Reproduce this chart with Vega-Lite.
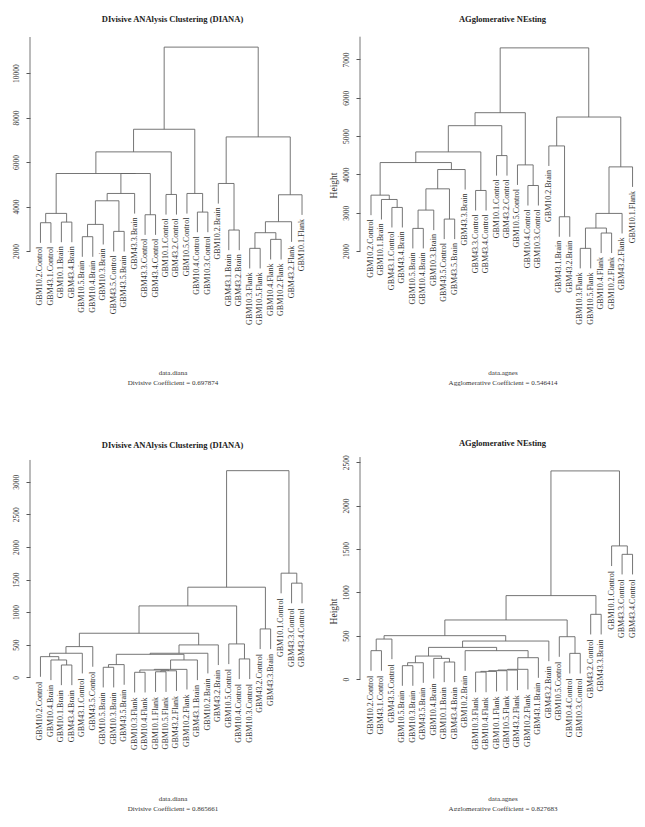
{
"$schema": "https://vega.github.io/schema/vega-lite/v6.json",
"background": "white",
"padding": {"left": 12, "top": 14, "right": 0, "bottom": 0},
"config": {"view": {"stroke": null}, "font": "Liberation Serif", "axis": {"grid": false, "labelFont": "Liberation Serif", "titleFont": "Liberation Serif"}},
"columns": 2,
"bounds": "flush",
"spacing": {"row": 116, "column": 45},
"datasets": {
"p1a": [{"x": 0, "y": 2000, "y2": 11618}],
"p2a": [{"x": -0.05, "y": 2000, "y2": 7595}],
"p3a": [{"x": 0, "y": 0, "y2": 3333}],
"p4a": [{"x": -0.05, "y": 0, "y2": 2560}],
"p1m": [
{"x1":1,"x2":2,"h":3271,"h1":2367,"h2":2367},
{"x1":3,"x2":4,"h":3300,"h1":2396,"h2":2396},
{"x1":1.5,"x2":3.5,"h":3690,"h1":3271,"h2":3300},
{"x1":5,"x2":6,"h":2643,"h1":1739,"h2":1739},
{"x1":5.5,"x2":7,"h":3196,"h1":2643,"h2":2292},
{"x1":8,"x2":9,"h":2882,"h1":1978,"h2":1978},
{"x1":6.25,"x2":8.5,"h":4257,"h1":3196,"h2":2882},
{"x1":7.375,"x2":10,"h":4586,"h1":4257,"h2":3682},
{"x1":11,"x2":12,"h":3630,"h1":2726,"h2":2726},
{"x1":8.6875,"x2":11.5,"h":5483,"h1":4586,"h2":3630},
{"x1":2.5,"x2":10.094,"h":5483,"h1":3690,"h2":5483},
{"x1":13,"x2":14,"h":4541,"h1":3637,"h2":3637},
{"x1":6.297,"x2":13.5,"h":6455,"h1":5483,"h2":4541},
{"x1":16,"x2":17,"h":3749,"h1":2845,"h2":2845},
{"x1":15,"x2":16.5,"h":4586,"h1":3682,"h2":3749},
{"x1":9.898,"x2":15.75,"h":7472,"h1":6455,"h2":4586},
{"x1":19,"x2":20,"h":2942,"h1":2038,"h2":2038},
{"x1":18,"x2":19.5,"h":5035,"h1":4131,"h2":2942},
{"x1":21,"x2":22,"h":2120,"h1":1216,"h2":1216},
{"x1":23,"x2":24,"h":2523,"h1":1619,"h2":1619},
{"x1":21.5,"x2":23.5,"h":2822,"h1":2120,"h2":2523},
{"x1":22.5,"x2":25,"h":3316,"h1":2822,"h2":2412},
{"x1":23.75,"x2":26,"h":4527,"h1":3316,"h2":3623},
{"x1":18.75,"x2":24.875,"h":7128,"h1":5035,"h2":4527},
{"x1":12.824,"x2":21.8125,"h":11164,"h1":7472,"h2":7128}
],
"p1l": [
{"leaf":1,"label":"GBM10.2.Control","y":2367},
{"leaf":2,"label":"GBM43.1.Control","y":2367},
{"leaf":3,"label":"GBM10.1.Brain","y":2396},
{"leaf":4,"label":"GBM43.4.Brain","y":2396},
{"leaf":5,"label":"GBM10.5.Brain","y":1739},
{"leaf":6,"label":"GBM10.4.Brain","y":1739},
{"leaf":7,"label":"GBM10.3.Brain","y":2292},
{"leaf":8,"label":"GBM43.5.Control","y":1978},
{"leaf":9,"label":"GBM43.5.Brain","y":1978},
{"leaf":10,"label":"GBM43.3.Brain","y":3682},
{"leaf":11,"label":"GBM43.3.Control","y":2726},
{"leaf":12,"label":"GBM43.4.Control","y":2726},
{"leaf":13,"label":"GBM10.1.Control","y":3637},
{"leaf":14,"label":"GBM43.2.Control","y":3637},
{"leaf":15,"label":"GBM10.5.Control","y":3682},
{"leaf":16,"label":"GBM10.4.Control","y":2845},
{"leaf":17,"label":"GBM10.3.Control","y":2845},
{"leaf":18,"label":"GBM10.2.Brain","y":4131},
{"leaf":19,"label":"GBM43.1.Brain","y":2038},
{"leaf":20,"label":"GBM43.2.Brain","y":2038},
{"leaf":21,"label":"GBM10.3.Flank","y":1216},
{"leaf":22,"label":"GBM10.5.Flank","y":1216},
{"leaf":23,"label":"GBM10.4.Flank","y":1619},
{"leaf":24,"label":"GBM10.2.Flank","y":1619},
{"leaf":25,"label":"GBM43.2.Flank","y":2412},
{"leaf":26,"label":"GBM10.1.Flank","y":3623}
],
"p2m": [
{"x1":3,"x2":4,"h":3137,"h1":2614,"h2":2614},
{"x1":2,"x2":3.5,"h":3345,"h1":2822,"h2":3137},
{"x1":1,"x2":2.75,"h":3458,"h1":2935,"h2":3345},
{"x1":5,"x2":6,"h":2590,"h1":2067,"h2":2067},
{"x1":5.5,"x2":7,"h":3068,"h1":2590,"h2":2545},
{"x1":8,"x2":9,"h":2833,"h1":2310,"h2":2310},
{"x1":6.25,"x2":8.5,"h":3623,"h1":3068,"h2":2833},
{"x1":7.375,"x2":10,"h":4127,"h1":3623,"h2":3604},
{"x1":1.875,"x2":8.6875,"h":4309,"h1":3458,"h2":4127},
{"x1":11,"x2":12,"h":3580,"h1":3057,"h2":3057},
{"x1":5.281,"x2":11.5,"h":4587,"h1":4309,"h2":3580},
{"x1":13,"x2":14,"h":4491,"h1":3968,"h2":3968},
{"x1":8.391,"x2":13.5,"h":5272,"h1":4587,"h2":4491},
{"x1":16,"x2":17,"h":3710,"h1":3187,"h2":3187},
{"x1":15,"x2":16.5,"h":4248,"h1":3725,"h2":3710},
{"x1":10.945,"x2":15.75,"h":5611,"h1":5272,"h2":4248},
{"x1":19,"x2":20,"h":2894,"h1":2371,"h2":2371},
{"x1":18,"x2":19.5,"h":4743,"h1":4220,"h2":2894},
{"x1":21,"x2":22,"h":2069,"h1":1546,"h2":1546},
{"x1":23,"x2":24,"h":2469,"h1":1946,"h2":1946},
{"x1":21.5,"x2":23.5,"h":2599,"h1":2069,"h2":2469},
{"x1":22.5,"x2":25,"h":2981,"h1":2599,"h2":2458},
{"x1":23.75,"x2":26,"h":4196,"h1":2981,"h2":3673},
{"x1":18.75,"x2":24.875,"h":5498,"h1":4743,"h2":4196},
{"x1":13.348,"x2":21.8125,"h":7303,"h1":5611,"h2":5498}
],
"p2l": [
{"leaf":1,"label":"GBM10.2.Control","y":2935},
{"leaf":2,"label":"GBM10.1.Brain","y":2822},
{"leaf":3,"label":"GBM43.1.Control","y":2614},
{"leaf":4,"label":"GBM43.4.Brain","y":2614},
{"leaf":5,"label":"GBM10.5.Brain","y":2067},
{"leaf":6,"label":"GBM10.4.Brain","y":2067},
{"leaf":7,"label":"GBM10.3.Brain","y":2545},
{"leaf":8,"label":"GBM43.5.Control","y":2310},
{"leaf":9,"label":"GBM43.5.Brain","y":2310},
{"leaf":10,"label":"GBM43.3.Brain","y":3604},
{"leaf":11,"label":"GBM43.3.Control","y":3057},
{"leaf":12,"label":"GBM43.4.Control","y":3057},
{"leaf":13,"label":"GBM10.1.Control","y":3968},
{"leaf":14,"label":"GBM43.2.Control","y":3968},
{"leaf":15,"label":"GBM10.5.Control","y":3725},
{"leaf":16,"label":"GBM10.4.Control","y":3187},
{"leaf":17,"label":"GBM10.3.Control","y":3187},
{"leaf":18,"label":"GBM10.2.Brain","y":4220},
{"leaf":19,"label":"GBM43.1.Brain","y":2371},
{"leaf":20,"label":"GBM43.2.Brain","y":2371},
{"leaf":21,"label":"GBM10.3.Flank","y":1546},
{"leaf":22,"label":"GBM10.5.Flank","y":1546},
{"leaf":23,"label":"GBM10.4.Flank","y":1946},
{"leaf":24,"label":"GBM10.2.Flank","y":1946},
{"leaf":25,"label":"GBM43.2.Flank","y":2458},
{"leaf":26,"label":"GBM10.1.Flank","y":3673}
],
"p3m": [
{"x1":3,"x2":4,"h":189,"h1":-120,"h2":-120},
{"x1":2,"x2":3.5,"h":266,"h1":-43,"h2":189},
{"x1":1,"x2":2.75,"h":317,"h1":8,"h2":266},
{"x1":1.875,"x2":5,"h":369,"h1":317,"h2":60},
{"x1":3.4375,"x2":6,"h":471,"h1":369,"h2":162},
{"x1":7,"x2":8,"h":154,"h1":-155,"h2":-155},
{"x1":7.5,"x2":9,"h":195,"h1":154,"h2":-114},
{"x1":10,"x2":11,"h":77,"h1":-232,"h2":-232},
{"x1":12,"x2":13,"h":85,"h1":-224,"h2":-224},
{"x1":12.5,"x2":14,"h":100,"h1":85,"h2":-209},
{"x1":10.5,"x2":13.25,"h":112,"h1":77,"h2":100},
{"x1":11.875,"x2":15,"h":122,"h1":112,"h2":-187},
{"x1":13.4375,"x2":16,"h":266,"h1":122,"h2":-43},
{"x1":8.25,"x2":14.719,"h":353,"h1":195,"h2":266},
{"x1":11.484,"x2":17,"h":369,"h1":353,"h2":60},
{"x1":14.242,"x2":18,"h":497,"h1":369,"h2":188},
{"x1":4.719,"x2":16.121,"h":676,"h1":471,"h2":497},
{"x1":20,"x2":21,"h":282,"h1":-27,"h2":-27},
{"x1":19,"x2":20.5,"h":512,"h1":203,"h2":282},
{"x1":10.42,"x2":19.75,"h":1095,"h1":676,"h2":512},
{"x1":22,"x2":23,"h":742,"h1":433,"h2":433},
{"x1":15.085,"x2":22.5,"h":1382,"h1":1095,"h2":742},
{"x1":25,"x2":26,"h":1444,"h1":1135,"h2":1135},
{"x1":24,"x2":25.5,"h":1597,"h1":1288,"h2":1444},
{"x1":18.79,"x2":24.75,"h":3169,"h1":1382,"h2":1597}
],
"p3l": [
{"leaf":1,"label":"GBM10.2.Control","y":8},
{"leaf":2,"label":"GBM10.4.Brain","y":-43},
{"leaf":3,"label":"GBM10.1.Brain","y":-120},
{"leaf":4,"label":"GBM43.4.Brain","y":-120},
{"leaf":5,"label":"GBM43.1.Control","y":60},
{"leaf":6,"label":"GBM43.5.Control","y":162},
{"leaf":7,"label":"GBM10.5.Brain","y":-155},
{"leaf":8,"label":"GBM10.3.Brain","y":-155},
{"leaf":9,"label":"GBM43.5.Brain","y":-114},
{"leaf":10,"label":"GBM10.3.Flank","y":-232},
{"leaf":11,"label":"GBM10.4.Flank","y":-232},
{"leaf":12,"label":"GBM10.1.Flank","y":-224},
{"leaf":13,"label":"GBM10.5.Flank","y":-224},
{"leaf":14,"label":"GBM43.2.Flank","y":-209},
{"leaf":15,"label":"GBM10.2.Flank","y":-187},
{"leaf":16,"label":"GBM43.1.Brain","y":-43},
{"leaf":17,"label":"GBM10.2.Brain","y":60},
{"leaf":18,"label":"GBM43.2.Brain","y":188},
{"leaf":19,"label":"GBM10.5.Control","y":203},
{"leaf":20,"label":"GBM10.4.Control","y":-27},
{"leaf":21,"label":"GBM10.3.Control","y":-27},
{"leaf":22,"label":"GBM43.2.Control","y":433},
{"leaf":23,"label":"GBM43.3.Brain","y":433},
{"leaf":24,"label":"GBM10.1.Control","y":1288},
{"leaf":25,"label":"GBM43.3.Control","y":1135},
{"leaf":26,"label":"GBM43.4.Control","y":1135}
],
"p4m": [
{"x1":1,"x2":2,"h":327,"h1":95,"h2":95},
{"x1":1.5,"x2":3,"h":461,"h1":327,"h2":229},
{"x1":4,"x2":5,"h":154,"h1":-78,"h2":-78},
{"x1":4.5,"x2":6,"h":188,"h1":154,"h2":-44},
{"x1":8,"x2":9,"h":196,"h1":-36,"h2":-36},
{"x1":7,"x2":8.5,"h":238,"h1":6,"h2":196},
{"x1":5.25,"x2":7.75,"h":265,"h1":188,"h2":238},
{"x1":11,"x2":12,"h":80,"h1":-152,"h2":-152},
{"x1":11.5,"x2":13,"h":88,"h1":80,"h2":-144},
{"x1":12.25,"x2":14,"h":96,"h1":88,"h2":-136},
{"x1":13.125,"x2":15,"h":104,"h1":96,"h2":-128},
{"x1":14.0625,"x2":16,"h":112,"h1":104,"h2":-120},
{"x1":15.031,"x2":17,"h":246,"h1":112,"h2":14},
{"x1":10,"x2":16.016,"h":327,"h1":95,"h2":246},
{"x1":6.5,"x2":13.008,"h":365,"h1":265,"h2":327},
{"x1":9.754,"x2":18,"h":438,"h1":365,"h2":206},
{"x1":2.25,"x2":13.877,"h":500,"h1":461,"h2":438},
{"x1":20,"x2":21,"h":296,"h1":64,"h2":64},
{"x1":19,"x2":20.5,"h":488,"h1":256,"h2":296},
{"x1":8.06,"x2":19.75,"h":681,"h1":500,"h2":488},
{"x1":22,"x2":23,"h":746,"h1":514,"h2":514},
{"x1":13.91,"x2":22.5,"h":962,"h1":681,"h2":746},
{"x1":25,"x2":26,"h":1438,"h1":1206,"h2":1206},
{"x1":24,"x2":25.5,"h":1535,"h1":1303,"h2":1438},
{"x1":18.2,"x2":24.75,"h":2400,"h1":962,"h2":1535}
],
"p4l": [
{"leaf":1,"label":"GBM10.2.Control","y":95},
{"leaf":2,"label":"GBM43.1.Control","y":95},
{"leaf":3,"label":"GBM43.5.Control","y":229},
{"leaf":4,"label":"GBM10.5.Brain","y":-78},
{"leaf":5,"label":"GBM10.3.Brain","y":-78},
{"leaf":6,"label":"GBM43.5.Brain","y":-44},
{"leaf":7,"label":"GBM10.4.Brain","y":6},
{"leaf":8,"label":"GBM10.1.Brain","y":-36},
{"leaf":9,"label":"GBM43.4.Brain","y":-36},
{"leaf":10,"label":"GBM10.2.Brain","y":95},
{"leaf":11,"label":"GBM10.3.Flank","y":-152},
{"leaf":12,"label":"GBM10.4.Flank","y":-152},
{"leaf":13,"label":"GBM10.1.Flank","y":-144},
{"leaf":14,"label":"GBM10.5.Flank","y":-136},
{"leaf":15,"label":"GBM43.2.Flank","y":-128},
{"leaf":16,"label":"GBM10.2.Flank","y":-120},
{"leaf":17,"label":"GBM43.1.Brain","y":14},
{"leaf":18,"label":"GBM43.2.Brain","y":206},
{"leaf":19,"label":"GBM10.5.Control","y":256},
{"leaf":20,"label":"GBM10.4.Control","y":64},
{"leaf":21,"label":"GBM10.3.Control","y":64},
{"leaf":22,"label":"GBM43.2.Control","y":514},
{"leaf":23,"label":"GBM43.3.Brain","y":514},
{"leaf":24,"label":"GBM10.1.Control","y":1303},
{"leaf":25,"label":"GBM43.3.Control","y":1206},
{"leaf":26,"label":"GBM43.4.Control","y":1206}
]
},
"concat": [
{
"width": 285, "height": 310,
"title": {"text": "DIvisive ANAlysis Clustering (DIANA)", "frame": "group", "anchor": "middle", "offset": 7, "fontSize": 8.5, "font": "Liberation Serif", "fontWeight": "bold", "color": "#222"},
"encoding": {
 "x": {"type": "quantitative", "title": ["data.diana", "Divisive Coefficient = 0.697874"], "scale": {"domain": [0, 27.24], "nice": false, "zero": false},
  "axis": {"labels": false, "ticks": false, "domain": false, "grid": false, "titleFontSize": 7, "titleFontWeight": "normal", "titlePadding": 28, "titleLineHeight": 10, "titleColor": "#333"}},
 "y": {"type": "quantitative", "title": null, "scale": {"domain": [-2000, 11933], "nice": false, "zero": false},
  "axis": {"values": [2000, 4000, 6000, 8000, 10000], "format": "d", "domain": false, "grid": false, "tickSize": 4, "tickColor": "#555", "labelAngle": 270, "labelAlign": "center", "labelBaseline": "bottom", "labelPadding": 5.5, "labelFontSize": 7.5, "labelColor": "#333"}}
},
"layer": [
{"data": {"name": "p1m"}, "mark": {"type": "rule", "color": "#666", "strokeWidth": 0.9},
 "encoding": {"x": {"field": "x1"}, "x2": {"field": "x2"}, "y": {"field": "h"}}},
{"data": {"name": "p1m"}, "mark": {"type": "rule", "color": "#666", "strokeWidth": 0.9},
 "encoding": {"x": {"field": "x1"}, "y": {"field": "h1"}, "y2": {"field": "h"}}},
{"data": {"name": "p1m"}, "mark": {"type": "rule", "color": "#666", "strokeWidth": 0.9},
 "encoding": {"x": {"field": "x2"}, "y": {"field": "h2"}, "y2": {"field": "h"}}},
{"data": {"name": "p1a"}, "mark": {"type": "rule", "color": "#666", "strokeWidth": 0.9},
 "encoding": {"x": {"field": "x"}, "y": {"field": "y"}, "y2": {"field": "y2"}}},
{"data": {"name": "p1l"}, "mark": {"type": "text", "angle": 270, "align": "right", "baseline": "middle", "dx": -4, "fontSize": 8, "font": "Liberation Serif", "color": "#333"},
 "encoding": {"x": {"field": "leaf"}, "y": {"field": "y"}, "text": {"field": "label"}}}
]
},
{
"width": 285, "height": 310,
"title": {"text": "AGglomerative NEsting", "frame": "group", "anchor": "middle", "offset": 7, "fontSize": 8.5, "font": "Liberation Serif", "fontWeight": "bold", "color": "#222"},
"encoding": {
 "x": {"type": "quantitative", "title": ["data.agnes", "Agglomerative Coefficient = 0.546414"], "scale": {"domain": [-0.05, 27.19], "nice": false, "zero": false},
  "axis": {"labels": false, "ticks": false, "domain": false, "grid": false, "titleFontSize": 7, "titleFontWeight": "normal", "titlePadding": 28, "titleLineHeight": 10, "titleColor": "#333"}},
 "y": {"type": "quantitative", "title": "Height", "scale": {"domain": [-324, 7770], "nice": false, "zero": false},
  "axis": {"values": [2000, 3000, 4000, 5000, 6000, 7000], "format": "d", "domain": false, "grid": false, "tickSize": 4, "tickColor": "#555", "labelAngle": 270, "labelAlign": "center", "labelBaseline": "bottom", "labelPadding": 5.5, "labelFontSize": 7.5, "labelColor": "#333", "titleFontSize": 9.5, "titleFontWeight": "normal", "titlePadding": 4, "titleColor": "#333"}}
},
"layer": [
{"data": {"name": "p2m"}, "mark": {"type": "rule", "color": "#666", "strokeWidth": 0.9},
 "encoding": {"x": {"field": "x1"}, "x2": {"field": "x2"}, "y": {"field": "h"}}},
{"data": {"name": "p2m"}, "mark": {"type": "rule", "color": "#666", "strokeWidth": 0.9},
 "encoding": {"x": {"field": "x1"}, "y": {"field": "h1"}, "y2": {"field": "h"}}},
{"data": {"name": "p2m"}, "mark": {"type": "rule", "color": "#666", "strokeWidth": 0.9},
 "encoding": {"x": {"field": "x2"}, "y": {"field": "h2"}, "y2": {"field": "h"}}},
{"data": {"name": "p2a"}, "mark": {"type": "rule", "color": "#666", "strokeWidth": 0.9},
 "encoding": {"x": {"field": "x"}, "y": {"field": "y"}, "y2": {"field": "y2"}}},
{"data": {"name": "p2l"}, "mark": {"type": "text", "angle": 270, "align": "right", "baseline": "middle", "dx": -4, "fontSize": 8, "font": "Liberation Serif", "color": "#333"},
 "encoding": {"x": {"field": "leaf"}, "y": {"field": "y"}, "text": {"field": "label"}}}
]
},
{
"width": 285, "height": 310,
"title": {"text": "DIvisive ANAlysis Clustering (DIANA)", "frame": "group", "anchor": "middle", "offset": 7, "fontSize": 8.5, "font": "Liberation Serif", "fontWeight": "bold", "color": "#222"},
"encoding": {
 "x": {"type": "quantitative", "title": ["data.diana", "Divisive Coefficient = 0.865661"], "scale": {"domain": [0, 27.24], "nice": false, "zero": false},
  "axis": {"labels": false, "ticks": false, "domain": false, "grid": false, "titleFontSize": 7, "titleFontWeight": "normal", "titlePadding": 28, "titleLineHeight": 10, "titleColor": "#333"}},
 "y": {"type": "quantitative", "title": null, "scale": {"domain": [-1360, 3394], "nice": false, "zero": false},
  "axis": {"values": [0, 500, 1000, 1500, 2000, 2500, 3000], "format": "d", "domain": false, "grid": false, "tickSize": 4, "tickColor": "#555", "labelAngle": 270, "labelAlign": "center", "labelBaseline": "bottom", "labelPadding": 5.5, "labelFontSize": 7.5, "labelColor": "#333"}}
},
"layer": [
{"data": {"name": "p3m"}, "mark": {"type": "rule", "color": "#666", "strokeWidth": 0.9},
 "encoding": {"x": {"field": "x1"}, "x2": {"field": "x2"}, "y": {"field": "h"}}},
{"data": {"name": "p3m"}, "mark": {"type": "rule", "color": "#666", "strokeWidth": 0.9},
 "encoding": {"x": {"field": "x1"}, "y": {"field": "h1"}, "y2": {"field": "h"}}},
{"data": {"name": "p3m"}, "mark": {"type": "rule", "color": "#666", "strokeWidth": 0.9},
 "encoding": {"x": {"field": "x2"}, "y": {"field": "h2"}, "y2": {"field": "h"}}},
{"data": {"name": "p3a"}, "mark": {"type": "rule", "color": "#666", "strokeWidth": 0.9},
 "encoding": {"x": {"field": "x"}, "y": {"field": "y"}, "y2": {"field": "y2"}}},
{"data": {"name": "p3l"}, "mark": {"type": "text", "angle": 270, "align": "right", "baseline": "middle", "dx": -5, "fontSize": 8, "font": "Liberation Serif", "color": "#333"},
 "encoding": {"x": {"field": "leaf"}, "y": {"field": "y"}, "text": {"field": "label"}}}
]
},
{
"width": 285, "height": 310,
"title": {"text": "AGglomerative NEsting", "frame": "group", "anchor": "middle", "offset": 7, "fontSize": 8.5, "font": "Liberation Serif", "fontWeight": "bold", "color": "#222"},
"encoding": {
 "x": {"type": "quantitative", "title": ["data.agnes", "Agglomerative Coefficient = 0.827683"], "scale": {"domain": [-0.05, 27.19], "nice": false, "zero": false},
  "axis": {"labels": false, "ticks": false, "domain": false, "grid": false, "titleFontSize": 7, "titleFontWeight": "normal", "titlePadding": 28, "titleLineHeight": 10, "titleColor": "#333"}},
 "y": {"type": "quantitative", "title": "Height", "scale": {"domain": [-1003, 2572], "nice": false, "zero": false},
  "axis": {"values": [0, 500, 1000, 1500, 2000, 2500], "format": "d", "domain": false, "grid": false, "tickSize": 4, "tickColor": "#555", "labelAngle": 270, "labelAlign": "center", "labelBaseline": "bottom", "labelPadding": 5.5, "labelFontSize": 7.5, "labelColor": "#333", "titleFontSize": 9.5, "titleFontWeight": "normal", "titlePadding": 4, "titleColor": "#333"}}
},
"layer": [
{"data": {"name": "p4m"}, "mark": {"type": "rule", "color": "#666", "strokeWidth": 0.9},
 "encoding": {"x": {"field": "x1"}, "x2": {"field": "x2"}, "y": {"field": "h"}}},
{"data": {"name": "p4m"}, "mark": {"type": "rule", "color": "#666", "strokeWidth": 0.9},
 "encoding": {"x": {"field": "x1"}, "y": {"field": "h1"}, "y2": {"field": "h"}}},
{"data": {"name": "p4m"}, "mark": {"type": "rule", "color": "#666", "strokeWidth": 0.9},
 "encoding": {"x": {"field": "x2"}, "y": {"field": "h2"}, "y2": {"field": "h"}}},
{"data": {"name": "p4a"}, "mark": {"type": "rule", "color": "#666", "strokeWidth": 0.9},
 "encoding": {"x": {"field": "x"}, "y": {"field": "y"}, "y2": {"field": "y2"}}},
{"data": {"name": "p4l"}, "mark": {"type": "text", "angle": 270, "align": "right", "baseline": "middle", "dx": -5, "fontSize": 8, "font": "Liberation Serif", "color": "#333"},
 "encoding": {"x": {"field": "leaf"}, "y": {"field": "y"}, "text": {"field": "label"}}}
]
}
]
}
